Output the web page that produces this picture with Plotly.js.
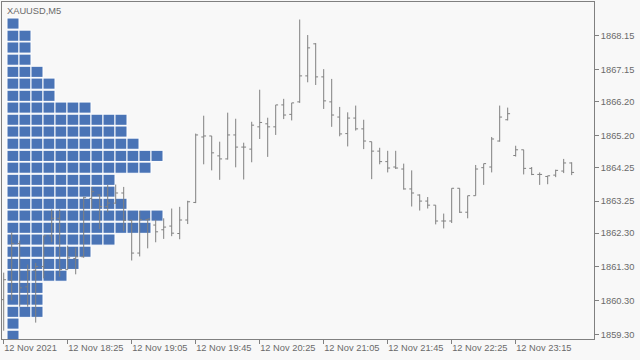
<!DOCTYPE html>
<html>
<head>
<meta charset="utf-8">
<script src="https://cdn.plot.ly/plotly-3.0.1.min.js"></script>
<style>html,body{margin:0;padding:0;background:#f8f8f8;}#chart{width:640px;height:360px;}</style>
</head>
<body>
<div id="chart"></div>
<script>
// ---- Data ----
const symbolTitle = "XAUUSD,M5";
const barIndex = [...Array(72).keys()];
const opens  = [1860.33,1860.90,1861.99,1860.71,1861.20,1861.31,1862.22,1862.74,1861.22,1861.55,1861.60,1863.33,1863.43,1863.09,1863.19,1863.49,1862.68,1861.71,1862.70,1862.54,1862.40,1862.51,1862.29,1862.69,1863.21,1865.15,1865.18,1864.59,1864.50,1865.21,1864.85,1864.79,1865.45,1865.54,1865.45,1866.10,1865.82,1866.19,1866.96,1867.91,1866.93,1866.19,1865.74,1865.25,1865.71,1865.39,1865.01,1864.73,1864.42,1864.26,1864.20,1863.61,1863.43,1863.25,1863.13,1862.66,1862.66,1863.63,1862.92,1863.41,1864.24,1864.26,1865.03,1865.66,1864.60,1864.77,1864.22,1864.04,1863.98,1864.02,1864.14,1864.38];
const highs  = [1861.13,1862.32,1862.08,1861.37,1861.42,1862.22,1863.00,1863.00,1861.93,1861.87,1863.38,1863.67,1863.45,1863.73,1863.74,1863.67,1862.70,1862.96,1862.72,1862.70,1862.74,1863.03,1863.08,1863.26,1865.25,1865.78,1865.18,1865.01,1865.87,1865.69,1864.98,1865.60,1866.55,1865.72,1866.10,1866.28,1866.16,1868.63,1868.17,1867.93,1867.16,1866.87,1866.04,1865.88,1866.08,1865.66,1865.01,1864.83,1864.74,1864.74,1864.36,1864.16,1863.45,1863.37,1863.13,1862.88,1863.63,1863.63,1863.41,1864.32,1864.36,1865.15,1866.08,1866.02,1864.89,1864.77,1864.26,1864.10,1864.00,1864.18,1864.50,1864.40];
const lows   = [1859.41,1860.31,1860.12,1860.12,1859.65,1860.96,1862.03,1861.01,1861.22,1861.08,1861.57,1863.02,1862.42,1862.92,1863.17,1862.36,1861.49,1861.61,1861.85,1862.03,1862.13,1862.21,1862.12,1862.57,1863.19,1864.34,1864.16,1863.88,1864.48,1864.25,1863.89,1864.40,1865.09,1864.56,1865.21,1865.68,1865.64,1866.16,1866.77,1866.69,1865.98,1865.45,1865.17,1864.87,1865.34,1864.79,1863.90,1864.34,1864.10,1864.20,1863.59,1863.09,1862.97,1863.03,1862.56,1862.44,1862.60,1862.90,1862.74,1863.41,1863.73,1864.10,1865.01,1865.64,1864.57,1864.04,1864.02,1863.73,1863.75,1863.96,1864.08,1864.02];
const closes = [1860.92,1861.99,1860.68,1861.20,1861.31,1862.22,1862.74,1861.22,1861.57,1861.60,1863.35,1863.53,1863.09,1863.19,1863.49,1862.68,1861.71,1862.70,1862.72,1862.34,1862.48,1862.30,1862.69,1863.23,1865.21,1865.18,1864.68,1864.50,1865.21,1864.85,1864.85,1865.50,1865.58,1865.45,1866.10,1865.80,1866.16,1866.96,1867.79,1866.93,1866.22,1865.80,1865.24,1865.71,1865.39,1865.03,1864.73,1864.42,1864.23,1864.23,1863.61,1863.49,1863.25,1863.13,1862.66,1862.66,1863.63,1862.92,1863.41,1864.20,1864.36,1865.09,1865.74,1865.84,1864.77,1864.22,1864.04,1864.04,1864.00,1864.16,1864.38,1864.10];

// Market profile: price levels (top to bottom) and TPO counts per level
const profileLevels = [1868.51,1868.15,1867.80,1867.44,1867.08,1866.73,1866.37,1866.02,1865.66,1865.31,1864.95,1864.59,1864.24,1863.88,1863.53,1863.17,1862.82,1862.46,1862.11,1861.75,1861.39,1861.04,1860.68,1860.33,1859.97,1859.62,1859.26];
const profileCounts = [1,2,2,2,3,4,4,7,10,10,11,13,12,9,9,10,13,12,9,7,6,5,3,3,3,1,1];

// Axis tick labels
const timeTickBars   = [0,8,16,24,32,40,48,56,64];
const timeTickLabels = ["12 Nov 2021","12 Nov 18:25","12 Nov 19:05","12 Nov 19:45","12 Nov 20:25","12 Nov 21:05","12 Nov 21:45","12 Nov 22:25","12 Nov 23:15"];
const priceTicks = [1859.30,1860.30,1861.30,1862.30,1863.25,1864.25,1865.20,1866.20,1867.15,1868.15];

// ---- Build traces ----
const px = [], pyv = [], pbase = [];
profileLevels.forEach((lvl, r) => {
  for (let j = 0; j < profileCounts[r]; j++) { px.push(1); pbase.push(j); pyv.push(lvl); }
});
const step = profileLevels[0] - profileLevels[1];

const textColor = '#6a6a6a';
const frameColor = '#808080';
const font = {family: 'Liberation Sans, Arial, sans-serif', size: 9.3, color: textColor};

const profile = {
  type: 'bar', orientation: 'h', x: px, y: pyv, base: pbase,
  width: step * 11 / 12, xaxis: 'x', yaxis: 'y',
  marker: {color: '#4a74b6', line: {color: '#ffffff', width: 1}},
  hoverinfo: 'skip', showlegend: false
};
const ohlc = {
  type: 'ohlc', x: barIndex, open: opens, high: highs, low: lows, close: closes,
  xaxis: 'x2', yaxis: 'y', tickwidth: 0.3,
  increasing: {line: {color: '#808080', width: 1}},
  decreasing: {line: {color: '#808080', width: 1}},
  hoverinfo: 'skip', showlegend: false
};

const layout = {
  width: 640, height: 360,
  margin: {l: 2, r: 46, t: 2, b: 21, pad: 0},
  paper_bgcolor: '#f8f8f8', plot_bgcolor: '#f8f8f8',
  barmode: 'overlay', showlegend: false, font: font,
  xaxis: {
    range: [-0.4167, 48.917], showgrid: false, zeroline: false,
    showticklabels: false, ticks: '', showline: true, mirror: true,
    linecolor: frameColor, linewidth: 1, fixedrange: true
  },
  xaxis2: {
    overlaying: 'x', anchor: 'y', side: 'bottom',
    range: [-0.2125, 73.79], showgrid: false, zeroline: false,
    tickmode: 'array', tickvals: timeTickBars, ticktext: timeTickLabels,
    ticks: 'outside', ticklen: 4, tickcolor: frameColor, tickwidth: 1,
    tickangle: 0, automargin: false,
    ticklabelposition: 'outside right', tickfont: font,
    rangeslider: {visible: false}, showline: false
  },
  yaxis: {
    side: 'right', range: [1859.164, 1869.149], showgrid: false, zeroline: false,
    tickmode: 'array', tickvals: priceTicks, ticktext: priceTicks.map(v => v.toFixed(2)),
    ticks: 'outside', ticklen: 4, tickcolor: frameColor, tickwidth: 1, automargin: false,
    tickfont: font, showline: true, mirror: true, linecolor: frameColor, linewidth: 1
  },
  annotations: [{
    text: symbolTitle, xref: 'paper', yref: 'paper', x: 0, y: 1,
    xanchor: 'left', yanchor: 'top', xshift: 3, yshift: -2,
    showarrow: false, font: font
  }]
};

Plotly.newPlot('chart', [profile, ohlc], layout, {staticPlot: true, displayModeBar: false});
</script>
</body>
</html>
